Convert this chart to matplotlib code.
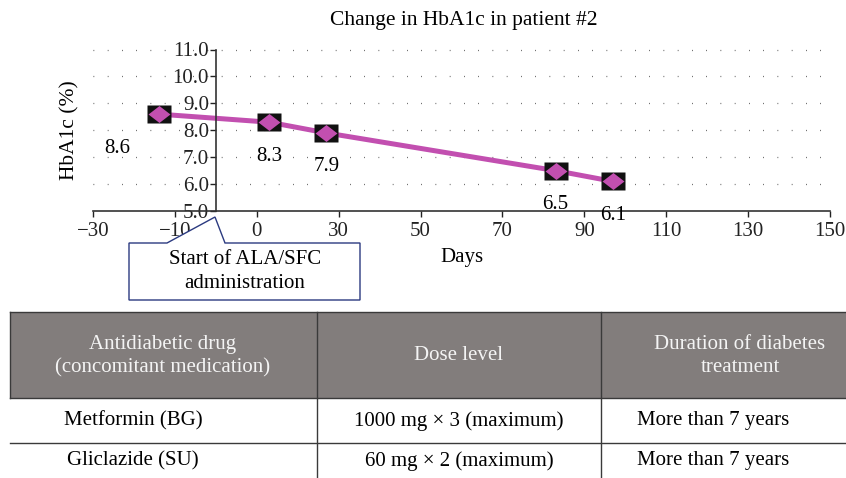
import matplotlib
matplotlib.use('Agg')
import matplotlib.pyplot as plt
from matplotlib.patches import Polygon, Rectangle
from matplotlib.lines import Line2D

# data
days = [-14, 13, 27, 83, 97]
hba1c = [8.6, 8.3, 7.9, 6.5, 6.1]
value_labels = ['8.6', '8.3', '7.9', '6.5', '6.1']
xticks = [-30, -10, 10, 30, 50, 70, 90, 110, 130, 150]
xtick_labels = ['\u221230', '\u221210', '0', '30', '50', '70', '90', '110', '130', '150']
yticks = [5, 6, 7, 8, 9, 10, 11]

table_header = ['Antidiabetic drug\n(concomitant medication)', 'Dose level',
                'Duration of diabetes\ntreatment']
table_drugs = ['Metformin (BG)', 'Gliclazide (SU)']
table_doses = ['1000 mg \u00d7 3 (maximum)', '60 mg \u00d7 2 (maximum)']
table_duration = ['More than 7 years', 'More than 7 years']

W, H = 846, 478
plt.rcParams['font.family'] = ['Liberation Serif', 'DejaVu Serif']
plt.rcParams['font.size'] = 15

fig = plt.figure(figsize=(W / 100, H / 100), dpi=100)


def fx(px):
    return px / W


def fy(py):
    return 1 - py / H


ax = fig.add_axes([fx(93), fy(211), fx(830) - fx(93), fy(49.5) - fy(211)])
ax.set_xlim(-30, 150)
ax.set_ylim(5, 11)

# dotted grid
for yv in yticks[1:]:
    ax.axhline(yv, color='#444444', lw=0.9, ls=(0, (0.6, 10.8)), clip_on=False, zorder=0)

ax.plot(days, hba1c, color='#C24FB0', lw=3.6, zorder=2, solid_capstyle='butt')
box = [(-12, -9), (12, -9), (12, 9), (-12, 9)]
diamond = [(0, -8.5), (11, 0), (0, 8.5), (-11, 0)]
ax.plot(days, hba1c, ls='none', marker=box, ms=17.3, mfc='#111111', mec='none', zorder=3)
ax.plot(days, hba1c, ls='none', marker=diamond, ms=15.8, mfc='#C24FB0', mec='none', zorder=4)

for i, (d, v) in enumerate(zip(days, hba1c)):
    dx = -30 if i == 0 else 0
    ax.annotate(value_labels[i], (d, v), xytext=(dx, -24.5), textcoords='offset points',
                ha='center', va='center', fontsize=15)

ax.spines['top'].set_visible(False)
ax.spines['right'].set_visible(False)
ax.spines['left'].set_position(('data', 0))
ax.spines['left'].set_color('#333333')
ax.spines['bottom'].set_color('#333333')
ax.spines['left'].set_linewidth(1.2)
ax.spines['bottom'].set_linewidth(1.2)
ax.set_xticks(xticks)
ax.set_xticklabels(xtick_labels)
ax.set_yticks(yticks)
ax.set_yticklabels(['%.1f' % y for y in yticks])
ax.tick_params(axis='x', direction='out', length=4, width=1, pad=4, colors='#222222')
ax.tick_params(axis='y', direction='out', length=4, width=1, pad=1, colors='#222222')
ax.set_xlabel('Days', labelpad=5)
ax.set_facecolor('none')

fig.text(fx(464), fy(20), 'Change in HbA1c in patient #2', ha='center', va='center', fontsize=15.5)
fig.text(fx(70), fy(130), 'HbA1c (%)', ha='center', va='center', rotation=90, fontsize=15.5)

# callout
callout = [(129, 300), (129, 243), (167, 243), (215, 217), (225, 243), (360, 243), (360, 300)]
fig.patches.append(Polygon([(fx(a), fy(b)) for a, b in callout], closed=True,
                           transform=fig.transFigure, facecolor='white',
                           edgecolor='#2B3A80', lw=1, zorder=5))
fig.text(fx(245), fy(260), 'Start of ALA/SFC', ha='center', va='center', zorder=6)
fig.text(fx(245), fy(283), 'administration', ha='center', va='center', zorder=6)

# table
fig.patches.append(Rectangle((fx(10), fy(398)), fx(846) - fx(10), fy(312) - fy(398),
                             transform=fig.transFigure, facecolor='#827D7C', edgecolor='none'))
line_c = '#3A3A3A'
for (x0, y0, x1, y1) in [(10, 312, 846, 312), (10, 398, 846, 398), (10, 443, 846, 443),
                         (10, 312, 10, 398), (317, 312, 317, 478), (601, 312, 601, 478)]:
    fig.add_artist(Line2D([fx(x0), fx(x1)], [fy(y0), fy(y1)], color=line_c, lw=1,
                          transform=fig.transFigure))
header_x = [163, 459, 740]
for hx, ht in zip(header_x, table_header):
    fig.text(fx(hx), fy(356), ht, ha='center', va='center', color='#F4F4F4',
             linespacing=1.3, fontsize=15)
row_y = [421, 461]
for i, ry in enumerate(row_y):
    fig.text(fx(133), fy(ry), table_drugs[i], ha='center', va='center')
    fig.text(fx(459), fy(ry), table_doses[i], ha='center', va='center')
    fig.text(fx(637), fy(ry), table_duration[i], ha='left', va='center')

fig.savefig('out.png', dpi=100)
